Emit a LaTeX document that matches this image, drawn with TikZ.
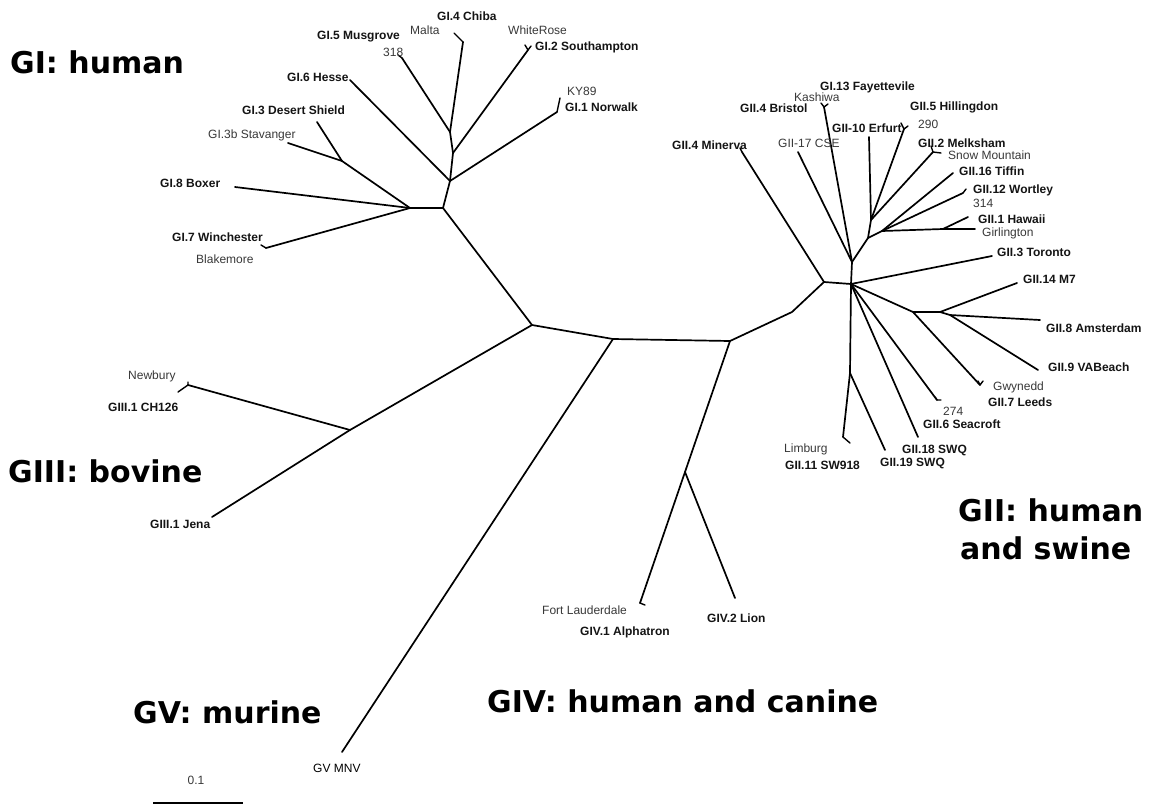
\documentclass[tikz,border=0pt]{standalone}
\usepackage{fontspec}
\setmainfont{Liberation Sans}
\newfontfamily\bigfont{DejaVu Sans}
\begin{document}
\begin{tikzpicture}[x=1pt,y=-1pt,
  br/.style={line width=1.7pt,line cap=round,line join=round},
  tk/.style={line width=1.4pt,line cap=round},
  lbl/.style={font=\fontsize{12}{14}\selectfont,text=black!78,inner sep=0pt,anchor=base west},
  blbl/.style={font=\fontsize{12}{14}\selectfont\bfseries,text=black!92,inner sep=0pt,anchor=base west},
  big/.style={font=\bigfont\bfseries\fontsize{30}{36}\selectfont,inner sep=0pt,anchor=base west}]
\useasboundingbox (0,0) rectangle (1156,806);
% backbone
\coordinate (A) at (532,325);
\coordinate (B) at (613,339);
\coordinate (C) at (730,341);
\coordinate (D) at (792,312);
\coordinate (H1) at (824,282);
\coordinate (H2) at (851,284);
% GI
\coordinate (G0) at (443,208);
\coordinate (G1) at (410,208);
\coordinate (Gds) at (342,161);
\coordinate (G2) at (450,181);
\coordinate (G3) at (453,153);
\coordinate (G4) at (450,132);
\coordinate (tBoxer) at (235,187);
\coordinate (tWin) at (266,248);
\coordinate (tDS) at (317,122);
\coordinate (tStav) at (288,143);
\coordinate (tHesse) at (350,80);
\coordinate (tNor) at (557,112);
\coordinate (tSou) at (528,50);
\coordinate (tChi) at (463,42);
\coordinate (tMus) at (402,58);
% GIII, GV, GIV
\coordinate (G3n) at (350,430);
\coordinate (tCH) at (188,385);
\coordinate (tJena) at (212,517);
\coordinate (tMNV) at (342,752);
\coordinate (G4n) at (685,472);
\coordinate (tAlp) at (640,603);
\coordinate (tLion) at (735,598);
% GII upper
\coordinate (Na) at (852,262);
\coordinate (Nb) at (868,238);
\coordinate (Nc) at (871,220);
\coordinate (Nd) at (882,231);
\coordinate (Nh) at (943,229);
\coordinate (tMin) at (742,152);
\coordinate (tCSE) at (798,152);
\coordinate (tKas) at (824,107);
\coordinate (tErf) at (869,137);
\coordinate (tHil) at (904,129);
\coordinate (tMel) at (933,152);
\coordinate (tTif) at (953,173);
\coordinate (tWor) at (963,193);
\coordinate (tHaw) at (968,217);
\coordinate (tGir) at (975,229);
% GII lower
\coordinate (N1) at (913,312);
\coordinate (N2) at (940,312);
\coordinate (N2b) at (950,315);
\coordinate (N3) at (850,373);
\coordinate (tTor) at (992,256);
\coordinate (tM7) at (1017,283);
\coordinate (tAms) at (1040,320);
\coordinate (tVAB) at (1038,370);
\coordinate (tLee) at (980,385);
\coordinate (t274) at (937,400);
\coordinate (tS18) at (918,437);
\coordinate (tLim) at (843,437);
\coordinate (tS19) at (885,450);

% branches
\draw[br] (G0) -- (A) -- (B) -- (C) -- (D) -- (H1) -- (H2);
\draw[br] (G1) -- (G0) -- (G2) -- (G3) -- (G4);
\draw[br] (G1) -- (tBoxer);
\draw[br] (G1) -- (tWin);
\draw[br] (G1) -- (Gds) -- (tDS);
\draw[br] (Gds) -- (tStav);
\draw[br] (G2) -- (tHesse);
\draw[br] (G2) -- (tNor);
\draw[br] (G3) -- (tSou);
\draw[br] (G4) -- (tChi);
\draw[br] (G4) -- (tMus);
\draw[br] (A) -- (G3n) -- (tCH);
\draw[br] (G3n) -- (tJena);
\draw[br] (B) -- (tMNV);
\draw[br] (C) -- (G4n) -- (tAlp);
\draw[br] (G4n) -- (tLion);
\draw[br] (H1) -- (tMin);
\draw[br] (H2) -- (Na) -- (tCSE);
\draw[br] (Na) -- (tKas);
\draw[br] (Na) -- (Nb) -- (Nc) -- (tErf);
\draw[br] (Nc) -- (tHil);
\draw[br] (Nc) -- (tMel);
\draw[br] (Nb) -- (Nd) -- (tTif);
\draw[br] (Nd) -- (tWor);
\draw[br] (Nd) -- (Nh) -- (tHaw);
\draw[br] (Nh) -- (tGir);
\draw[br] (H2) -- (tTor);
\draw[br] (H2) -- (N1) -- (tLee);
\draw[br] (N1) -- (N2) -- (tM7);
\draw[br] (N2) -- (N2b) -- (tAms);
\draw[br] (N2b) -- (tVAB);
\draw[br] (H2) -- (t274);
\draw[br] (H2) -- (tS18);
\draw[br] (H2) -- (N3) -- (tLim);
\draw[br] (N3) -- (tS19);
% tiny terminal forks
\draw[tk] (tChi) -- ++(-9,-9);
\draw[tk] (tSou) -- ++(-3,-5) (tSou) -- ++(3,-4);
\draw[tk] (tNor) -- ++(3,-14);
\draw[tk] (tMus) -- ++(-4,-3);
\draw[tk] (tWin) -- ++(-5,-3);
\draw[tk] (tCH) -- ++(-10,7) (tCH) -- ++(0,-3);
\draw[tk] (tAlp) -- ++(5,2);
\draw[tk] (tMin) -- ++(-2,-4);
\draw[tk] (tKas) -- ++(-3,-4) (tKas) -- ++(4,-3);
\draw[tk] (tHil) -- ++(-3,-6) (tHil) -- ++(4,-3);
\draw[tk] (tMel) -- ++(-2,-6) (tMel) -- ++(8,1);
\draw[tk] (tWor) -- ++(3,-4);
\draw[tk] (tLee) -- ++(-2,-4) (tLee) -- ++(3,-4);
\draw[tk] (t274) -- ++(4,0) (t274) -- ++(-2,-3);
\draw[tk] (tLim) -- ++(7,6);

% scale bar
\coordinate (sb1) at (153,803);
\coordinate (sb2) at (243,803);
\draw[line width=2pt] (sb1) -- (sb2);
\node[lbl,anchor=base] (sbl) at (196,784) {0.1};

% group labels
\node[big] (lGI) at (10,73) {GI: human};
\node[big] (lGIII) at (8,482) {GIII: bovine};
\node[big] (lGV) at (133,723) {GV: murine};
\node[big] (lGIV) at (487,712) {GIV: human and canine};
\node[big] (lGIIa) at (958,521) {GII: human};
\node[big] (lGIIb) at (960,559) {and swine};

% strain labels GI
\node[blbl] (nChiba) at (437,20) {GI.4 Chiba};
\node[lbl] (nMalta) at (410,34) {Malta};
\node[lbl] (nWR) at (508,34) {WhiteRose};
\node[blbl] (nSou) at (535,50) {GI.2 Southampton};
\node[blbl] (nMus) at (317,39) {GI.5 Musgrove};
\node[lbl] (n318) at (383,56) {318};
\node[lbl] (nKY) at (567,95) {KY89};
\node[blbl] (nNor) at (565,111) {GI.1 Norwalk};
\node[blbl] (nHes) at (287,81) {GI.6 Hesse};
\node[blbl] (nDS) at (242,114) {GI.3 Desert Shield};
\node[lbl] (nStav) at (208,138) {GI.3b Stavanger};
\node[blbl] (nBox) at (160,187) {GI.8 Boxer};
\node[blbl] (nWin) at (172,241) {GI.7 Winchester};
\node[lbl] (nBla) at (196,263) {Blakemore};
% GIII GIV GV
\node[lbl] (nNew) at (128,379) {Newbury};
\node[blbl] (nCH) at (108,411) {GIII.1 CH126};
\node[blbl] (nJena) at (150,528) {GIII.1 Jena};
\node[lbl] (nFL) at (542,614) {Fort Lauderdale};
\node[blbl] (nAlp) at (580,635) {GIV.1 Alphatron};
\node[blbl] (nLion) at (707,622) {GIV.2 Lion};
\node[lbl,text=black] (nMNV) at (313,772) {GV MNV};
% GII
\node[blbl] (nFay) at (820,90) {GI.13 Fayettevile};
\node[lbl] (nKas) at (794,101) {Kashiwa};
\node[blbl] (nBri) at (740,112) {GII.4 Bristol};
\node[blbl] (nMin) at (672,149) {GII.4 Minerva};
\node[lbl] (nCSE) at (778,147) {GII-17 CSE};
\node[blbl] (nErf) at (832,132) {GII-10 Erfurt};
\node[blbl] (nHil) at (910,110) {GII.5 Hillingdon};
\node[lbl] (n290) at (918,128) {290};
\node[blbl] (nMel) at (918,147) {GII.2 Melksham};
\node[lbl] (nSM) at (948,159) {Snow Mountain};
\node[blbl] (nTif) at (959,175) {GII.16 Tiffin};
\node[blbl] (nWor) at (973,193) {GII.12 Wortley};
\node[lbl] (n314) at (973,207) {314};
\node[blbl] (nHaw) at (978,223) {GII.1 Hawaii};
\node[lbl] (nGir) at (982,236) {Girlington};
\node[blbl] (nTor) at (997,256) {GII.3 Toronto};
\node[blbl] (nM7) at (1023,283) {GII.14 M7};
\node[blbl] (nAms) at (1046,332) {GII.8 Amsterdam};
\node[blbl] (nVAB) at (1048,371) {GII.9 VABeach};
\node[lbl] (nGwy) at (993,390) {Gwynedd};
\node[blbl] (nLee) at (988,406) {GII.7 Leeds};
\node[lbl] (n274) at (943,415) {274};
\node[blbl] (nSea) at (923,428) {GII.6 Seacroft};
\node[blbl] (nS18) at (902,453) {GII.18 SWQ};
\node[blbl] (nS19) at (880,466) {GII.19 SWQ};
\node[lbl] (nLim) at (784,452) {Limburg};
\node[blbl] (nSW9) at (785,469) {GII.11 SW918};
\end{tikzpicture}
\end{document}
